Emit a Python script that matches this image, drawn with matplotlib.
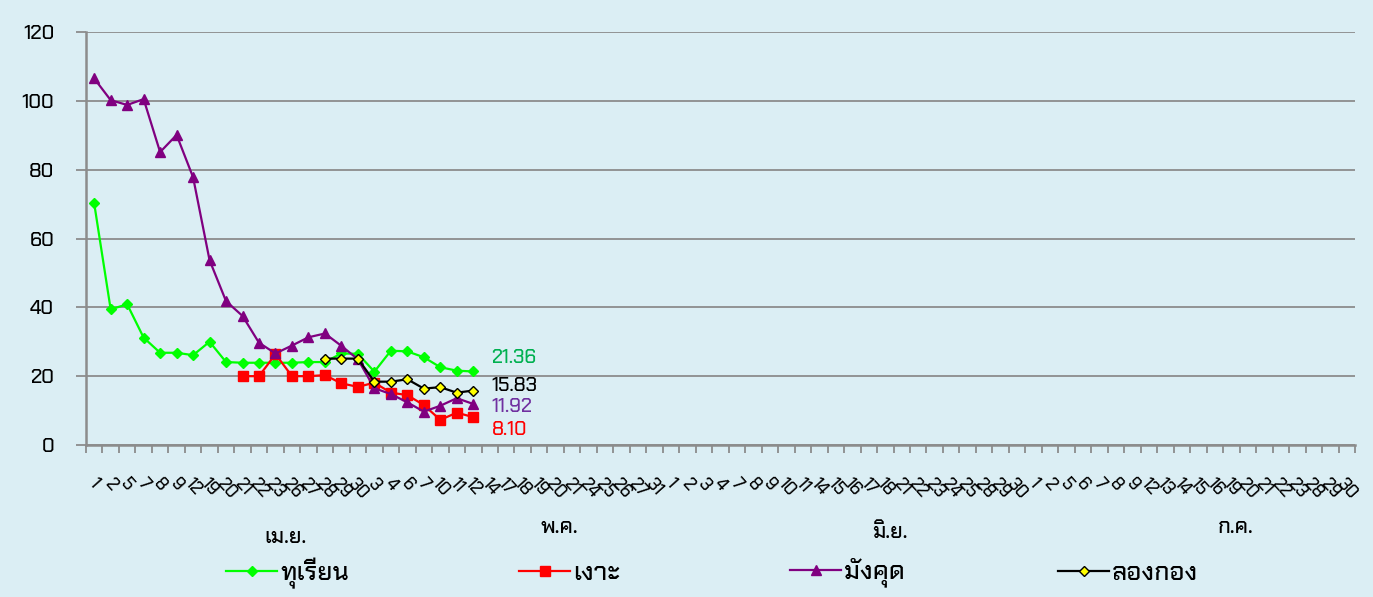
import numpy as np
import matplotlib
matplotlib.use('Agg')
import matplotlib.pyplot as plt
from matplotlib.ticker import FixedLocator, NullFormatter


# day labels per month (x axis is categorical, one slot per day label)
apr_days = [1, 2, 5, 7, 8, 9, 12, 19, 20, 21, 22, 23, 26, 27, 28, 29, 30]
may_days = [3, 4, 6, 7, 10, 11, 12, 14, 17, 18, 19, 20, 21, 24, 25, 26, 27, 31]
jun_days = [1, 2, 3, 4, 7, 8, 9, 10, 11, 14, 15, 16, 17, 18, 21, 22, 23, 24, 25, 28, 29, 30]
jul_days = [1, 2, 5, 6, 7, 8, 9, 12, 13, 14, 15, 16, 19, 20, 21, 22, 23, 28, 29, 30]
month_names = ['เม.ย.', 'พ.ค.', 'มิ.ย.', 'ก.ค.']
month_label_x = [11.6, 28.2, 48.3, 69.2]      # where the month captions sit
month_label_y = [-0.225, -0.200, -0.213, -0.200]

# prices (series start at different days)
durian = [70.2, 39.4, 40.9, 31.2, 26.8, 26.8, 26.1, 30.0, 24.1, 23.9, 23.9, 23.9,
          23.9, 24.1, 24.1, 26.6, 26.5, 21.3, 27.4, 27.2, 25.5, 22.6, 21.6, 21.36]
rambutan = [20.0, 20.0, 26.4, 20.0, 20.0, 20.3, 17.9, 16.9, 18.1, 15.2, 14.5,
            11.6, 7.3, 9.4, 8.10]
mangosteen = [106.5, 100.2, 98.8, 100.5, 85.1, 90.1, 77.8, 53.7, 41.8, 37.5, 29.7,
              26.6, 28.9, 31.3, 32.4, 28.8, 24.9, 16.5, 14.8, 12.4, 9.7, 11.4, 13.6, 11.92]
longkong = [25.1, 25.1, 25.1, 18.4, 18.4, 19.1, 16.4, 16.8, 15.2, 15.83]
start_idx = {'durian': 0, 'rambutan': 9, 'mangosteen': 0, 'longkong': 14}

end_labels = ['21.36', '15.83', '11.92', '8.10']
end_label_y = [25.3, 17.1, 11.0, 4.4]
end_label_colors = ['#00b050', 'black', '#7030a0', '#ff0000']

legend_x = [226, 519, 790, 1058]   # left edge of each legend entry, pixels


FONT = ['Chakra Petch', 'DejaVu Sans']
plt.rcParams['font.family'] = FONT
plt.rcParams['font.weight'] = 'medium'
BG = '#dbeef4'

all_days = apr_days + may_days + jun_days + jul_days
n = len(all_days)

W, H = 1373, 597
fig = plt.figure(figsize=(W / 100, H / 100), dpi=100, facecolor=BG)
ax = fig.add_axes([0.0626, 0.2546, 0.9243, 0.6918], facecolor=BG)

def xs(key, vals):
    s = start_idx[key]
    return np.arange(s, s + len(vals))

h1, = ax.plot(xs('durian', durian), durian, color='#00ff00', lw=1.6, marker='D', ms=5,
              mfc='#00ff00', mec='#00ff00', zorder=3)
h2, = ax.plot(xs('rambutan', rambutan), rambutan, color='#ff0000', lw=1.6, marker='s', ms=7,
              mfc='#ff0000', mec='#ff0000', zorder=4)
h3, = ax.plot(xs('mangosteen', mangosteen), mangosteen, color='#800080', lw=1.6, marker='^', ms=7,
              mfc='#800080', mec='#800080', zorder=5)
h4, = ax.plot(xs('longkong', longkong), longkong, color='black', lw=1.6, marker='D', ms=5,
              mfc='#ffff00', mec='black', mew=1, zorder=6)

last_x = len(durian) - 1
for txt, y, c in zip(end_labels, end_label_y, end_label_colors):
    ax.text(last_x + 1.1, y, txt, color=c, fontsize=14, va='center', ha='left')

ax.set_xlim(-0.5, n - 0.5)
ax.set_ylim(0, 120)
ax.set_yticks(np.arange(0, 121, 20))
ax.yaxis.grid(True, color='#8c8c8c', lw=1.3)
ax.set_axisbelow(True)

ax.xaxis.set_major_locator(FixedLocator(np.arange(-0.5, n, 1.0)))
ax.xaxis.set_major_formatter(NullFormatter())
ax.xaxis.set_minor_locator(FixedLocator(np.arange(n)))
ax.set_xticklabels([str(d) for d in all_days], minor=True, rotation=-48,
                   ha='center', va='top', fontsize=12.5)
ax.tick_params(axis='x', which='major', length=6, width=1.3, color='#8c8c8c', direction='out')
ax.tick_params(axis='x', which='minor', length=0, pad=22)
ax.tick_params(axis='y', length=7, width=1.3, color='#8c8c8c', pad=16, labelsize=14.5)

for s in ['top', 'right']:
    ax.spines[s].set_visible(False)
for s in ['left', 'bottom']:
    ax.spines[s].set_color('#8c8c8c')
    ax.spines[s].set_linewidth(1.8)

for name, x, y in zip(month_names, month_label_x, month_label_y):
    ax.text(x, y, name, transform=ax.get_xaxis_transform(), ha='center', va='center',
            fontsize=15.5)

for h, lab, lx in zip([h1, h2, h3, h4], ['ทุเรียน', 'เงาะ', 'มังคุด', 'ลองกอง'], legend_x):
    fig.legend([h], [lab], loc='center left', bbox_to_anchor=(lx / W, 0.040),
               frameon=False, fontsize=18.5, handlelength=2.0, handletextpad=0.1,
               borderpad=0, borderaxespad=0)

fig.savefig('out.png', dpi=100, facecolor=BG)
